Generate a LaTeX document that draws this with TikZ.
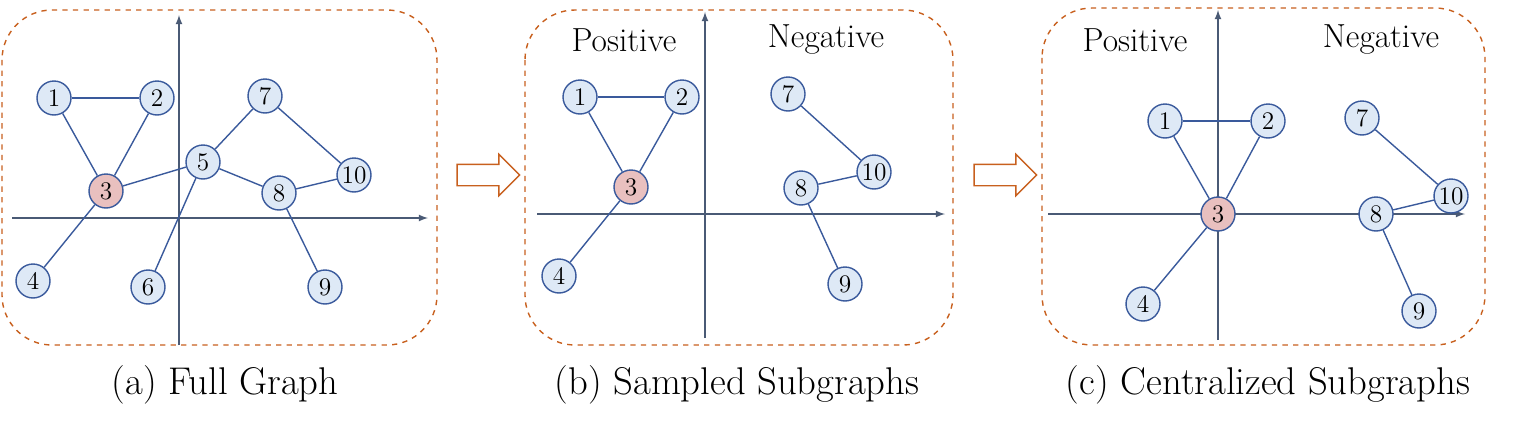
\documentclass[tikz,border=0pt]{standalone}
\usetikzlibrary{shapes.arrows}
\definecolor{nodeblue}{HTML}{DEE9F6}
\definecolor{nodeline}{HTML}{3A5A9C}
\definecolor{nodered}{HTML}{E9C0BF}
\definecolor{axisgray}{HTML}{4A5A75}
\definecolor{boxorange}{HTML}{C8601E}
\tikzset{
  vertex/.style={circle, draw=nodeline, fill=nodeblue, thick, minimum size=0.68cm, inner sep=0pt, font=\Large},
  center/.style={vertex, fill=nodered},
  edge/.style={draw=nodeline, thick},
  axis/.style={draw=axisgray, thick, -latex},
  panel/.style={draw=boxorange, thick, dashed, rounded corners=1cm},
  flow/.style={single arrow, draw=boxorange, thick, fill=white, minimum height=1.25cm, minimum width=0.8cm, single arrow head extend=0.2cm, inner sep=0.2cm},
  caption/.style={font=\fontsize{22}{26}\selectfont},
  sign/.style={font=\fontsize{19}{22}\selectfont}
}
\begin{document}
\begin{tikzpicture}[x=0.02cm, y=-0.02cm]
  \useasboundingbox (0,0) rectangle (1517,433);

  % (a) full graph
  \draw[panel] (2,10) rectangle (437,345);
  \draw[axis] (179,345) -- (179,15);
  \draw[axis] (12,218) -- (428,218);
  \node[vertex] (a1) at (54,98) {1};
  \node[vertex] (a2) at (157,98) {2};
  \node[center] (a3) at (106,191) {3};
  \node[vertex] (a4) at (33,281) {4};
  \node[vertex] (a5) at (203,162) {5};
  \node[vertex] (a6) at (148,287) {6};
  \node[vertex] (a7) at (265,96) {7};
  \node[vertex] (a8) at (279,193) {8};
  \node[vertex] (a9) at (325,287) {9};
  \node[vertex] (a10) at (354,175) {10};
  \foreach \u/\v in {1/2,1/3,2/3,3/4,3/5,5/6,5/7,5/8,7/10,8/10,8/9}
    \draw[edge] (a\u) -- (a\v);
  \node[caption] (capa) at (225,385) {(a) Full Graph};

  \node[flow] (arrab) at (483,175) {};

  % (b) sampled subgraphs
  \draw[panel] (525,10) rectangle (953,345);
  \draw[axis] (705,338) -- (705,12);
  \draw[axis] (537,214) -- (945,214);
  \node[sign] (posb) at (624,40) {Positive};
  \node[sign] (negb) at (826,40) {Negative};
  \node[vertex] (b1) at (580,97) {1};
  \node[vertex] (b2) at (682,97) {2};
  \node[center] (b3) at (631,187) {3};
  \node[vertex] (b4) at (559,276) {4};
  \node[vertex] (b7) at (788,94) {7};
  \node[vertex] (b8) at (801,188) {8};
  \node[vertex] (b9) at (845,284) {9};
  \node[vertex] (b10) at (874,172) {10};
  \foreach \u/\v in {1/2,1/3,2/3,3/4,7/10,8/10,8/9}
    \draw[edge] (b\u) -- (b\v);
  \node[caption] (capb) at (737,385) {(b) Sampled Subgraphs};

  \node[flow] (arrbc) at (1000,175) {};

  % (c) centralized subgraphs
  \draw[panel] (1042,8) rectangle (1485,345);
  \draw[axis] (1218,340) -- (1218,10);
  \draw[axis] (1048,214) -- (1465,214);
  \node[sign] (posc) at (1135,40) {Positive};
  \node[sign] (negc) at (1381,40) {Negative};
  \node[vertex] (c1) at (1165,121) {1};
  \node[vertex] (c2) at (1268,121) {2};
  \node[center] (c3) at (1218,214) {3};
  \node[vertex] (c4) at (1143,304) {4};
  \node[vertex] (c7) at (1362,118) {7};
  \node[vertex] (c8) at (1376,214) {8};
  \node[vertex] (c9) at (1419,311) {9};
  \node[vertex] (c10) at (1451,196) {10};
  \foreach \u/\v in {1/2,1/3,2/3,3/4,7/10,8/10,8/9}
    \draw[edge] (c\u) -- (c\v);
  \node[caption] (capc) at (1268,385) {(c) Centralized Subgraphs};
\end{tikzpicture}
\end{document}
